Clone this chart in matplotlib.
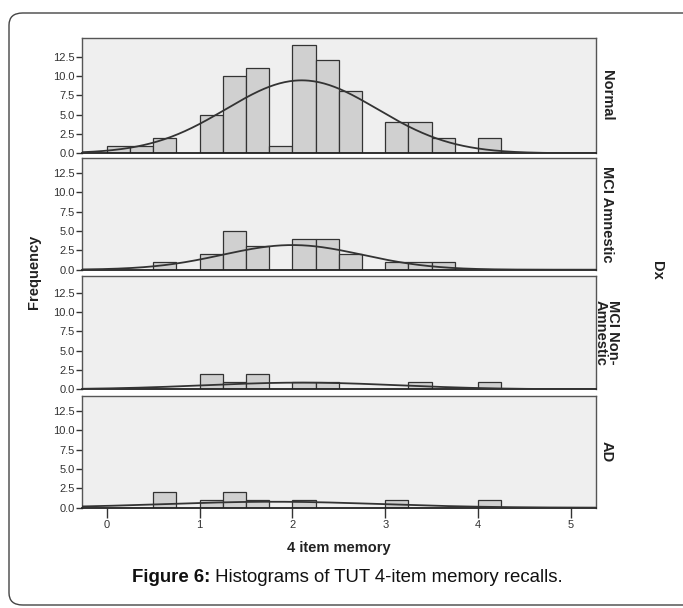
# histograms of 4 item memory per diagnosis group, SPSS-style panels

import numpy as np
import matplotlib.pyplot as plt
from matplotlib.patches import FancyBboxPatch

plt.rcParams['font.family'] = ['Liberation Sans', 'DejaVu Sans']

# data (bin start, count), bin width 0.25
bin_width = 0.25
group_names = ['Normal', 'MCI Amnestic', 'MCI Non-\nAmnestic', 'AD']

normal_bins = [0.0, 0.25, 0.5, 1.0, 1.25, 1.5, 1.75, 2.0, 2.25, 2.5, 3.0, 3.25, 3.5, 4.0]
normal_counts = [1, 1, 2, 5, 10, 11, 1, 14, 12, 8, 4, 4, 2, 2]

amnestic_bins = [0.5, 1.0, 1.25, 1.5, 2.0, 2.25, 2.5, 3.0, 3.25, 3.5]
amnestic_counts = [1, 2, 5, 3, 4, 4, 2, 1, 1, 1]

nonamnestic_bins = [1.0, 1.25, 1.5, 2.0, 2.25, 3.25, 4.0]
nonamnestic_counts = [2, 1, 2, 1, 1, 1, 1]

ad_bins = [0.5, 1.0, 1.25, 1.5, 2.0, 3.0, 4.0]
ad_counts = [2, 1, 2, 1, 1, 1, 1]

y_ticks = [0.0, 2.5, 5.0, 7.5, 10.0, 12.5]
x_ticks = [0, 1, 2, 3, 4, 5]

all_bins = [normal_bins, amnestic_bins, nonamnestic_bins, ad_bins]
all_counts = [normal_counts, amnestic_counts, nonamnestic_counts, ad_counts]

W, H = 683, 608
fig = plt.figure(figsize=(W / 100, H / 100), dpi=100)

# rounded frame around the figure
frame = FancyBboxPatch((9 / W, 3 / H), 690 / W, (H - 16) / H,
                       boxstyle='round,pad=0,rounding_size=0.02',
                       transform=fig.transFigure, facecolor='none',
                       edgecolor='#444444', linewidth=1.0)
fig.patches.append(frame)

left, right = 81.7, 596.0
panels = [(38.0, 153.3), (158.3, 269.7), (275.7, 389.3), (395.7, 507.7)]
px_per_unit = 7.74
xlim = (-0.27, 5.27)

for i, (top, bottom) in enumerate(panels):
    ax = fig.add_axes([left / W, 1 - bottom / H, (right - left) / W, (bottom - top) / H])
    ax.set_facecolor('#efefef')
    ax.set_xlim(*xlim)
    ax.set_ylim(0, (bottom - top) / px_per_unit)

    bins = np.array(all_bins[i])
    counts = np.array(all_counts[i])
    ax.bar(bins, counts, width=bin_width, align='edge', color='#d0d0d0',
           edgecolor='#333333', linewidth=0.9, zorder=2)

    # normal curve fitted to the group
    centers = bins + bin_width / 2
    n = counts.sum()
    mu = np.sum(centers * counts) / n
    sd = np.sqrt(np.sum(counts * (centers - mu) ** 2) / (n - 1))
    xs = np.linspace(xlim[0], xlim[1], 300)
    ys = n * bin_width / (sd * np.sqrt(2 * np.pi)) * np.exp(-0.5 * ((xs - mu) / sd) ** 2)
    ax.plot(xs, ys, color='#333333', linewidth=1.3, zorder=3)

    ax.set_yticks(y_ticks)
    ax.set_yticklabels(['%.1f' % v for v in y_ticks], fontsize=8, color='#333333')
    ax.tick_params(axis='y', length=4, width=1, color='#333333', pad=1)
    for s in ax.spines.values():
        s.set_color('#555555')
        s.set_linewidth(1.0)
    ax.spines['bottom'].set_color('#222222')
    ax.spines['bottom'].set_linewidth(1.3)

    if i == len(panels) - 1:
        ax.set_xticks(x_ticks)
        ax.set_xticklabels([str(v) for v in x_ticks], fontsize=8, color='#333333')
        ax.tick_params(axis='x', length=7, width=1, color='#333333', pad=2)
    else:
        ax.set_xticks([])

    fig.text(607 / W, 1 - (top + bottom) / 2 / H, group_names[i], rotation=-90,
             ha='center', va='center', fontsize=10.5, fontweight='bold',
             color='#222222', linespacing=0.85)

fig.text(34 / W, 1 - 272 / H, 'Frequency', rotation=90, ha='center', va='center',
         fontsize=10.5, fontweight='bold', color='#222222')
fig.text(657 / W, 1 - 270 / H, 'Dx', rotation=-90, ha='center', va='center',
         fontsize=10.5, fontweight='bold', color='#222222')
fig.text((left + right) / 2 / W, 1 - 548 / H, '4 item memory', ha='center', va='center',
         fontsize=10.5, fontweight='bold', color='#222222')

# caption: bold lead followed by regular text
renderer = fig.canvas.get_renderer()
lead = fig.text(132 / W, 1 - 578 / H, 'Figure 6:', ha='left', va='center',
                fontsize=13.4, fontweight='bold', color='#111111')
bb = lead.get_window_extent(renderer)
fig.text(bb.x1 / W, 1 - 578 / H, ' Histograms of TUT 4-item memory recalls.',
         ha='left', va='center', fontsize=13.4, color='#111111')

fig.savefig('out.png', dpi=100)
